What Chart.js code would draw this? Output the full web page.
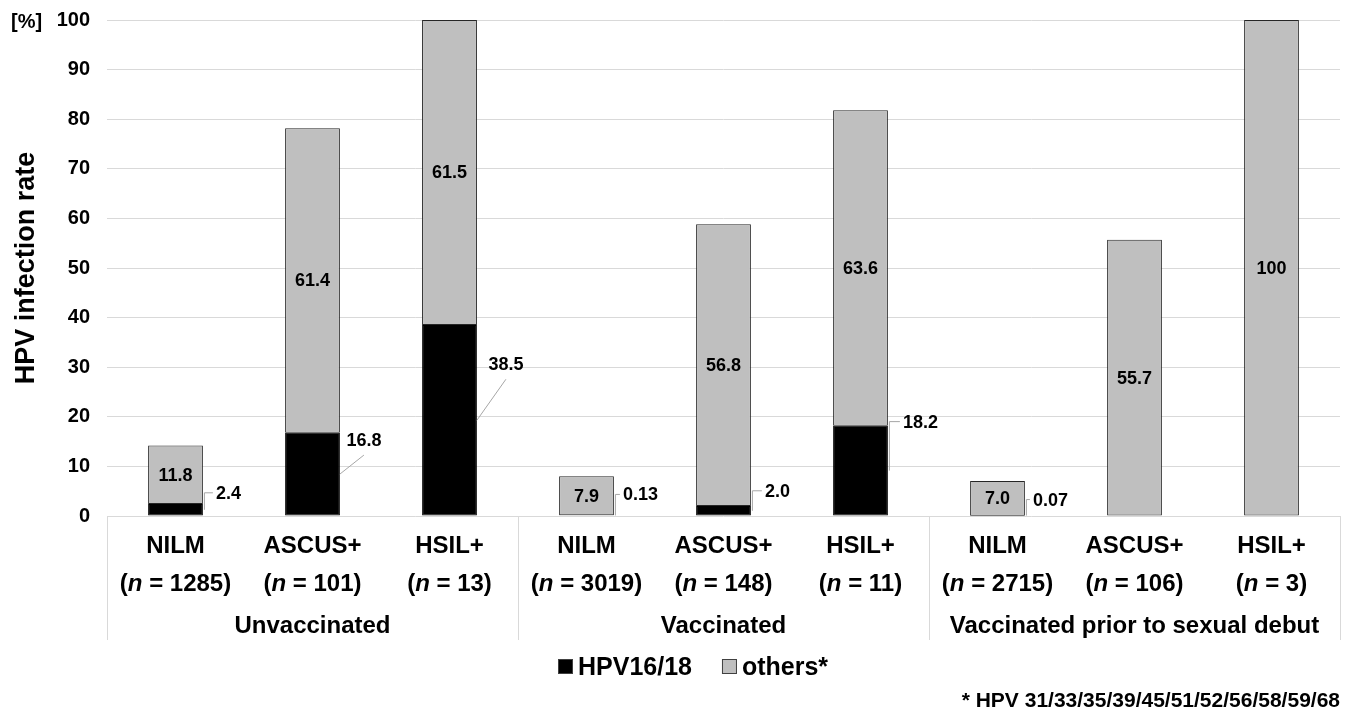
<!DOCTYPE html>
<html>
<head>
<meta charset="utf-8">
<title>HPV infection rate</title>
<script src="https://cdn.jsdelivr.net/npm/chart.js@4.4.1/dist/chart.umd.min.js"></script>
<style>
    html, body { margin: 0; padding: 0; background: #fff; }
</style>
</head>
<body>
<canvas id="hpvChart" width="1352" height="712"></canvas>
<script>
// Chart data
const categories = ['NILM', 'ASCUS+', 'HSIL+', 'NILM', 'ASCUS+', 'HSIL+', 'NILM', 'ASCUS+', 'HSIL+'];
const sampleSizes = [1285, 101, 13, 3019, 148, 11, 2715, 106, 3];
const groups = ['Unvaccinated', 'Vaccinated', 'Vaccinated prior to sexual debut'];
const groupSizes = [3, 3, 3];
const hpv1618 = [2.4, 16.8, 38.5, 0.13, 2.0, 18.2, 0.07, 0, 0];
const others = [11.8, 61.4, 61.5, 7.9, 56.8, 63.6, 7.0, 55.7, 100];
const seriesNames = ['HPV16/18', 'others*'];
const yTicks = [0, 10, 20, 30, 40, 50, 60, 70, 80, 90, 100];
const footnote = '* HPV 31/33/35/39/45/51/52/56/58/59/68';

const FONT = '"Liberation Sans", Arial, sans-serif';
const BLACK = '#000000';
const GREY = '#bfbfbf';
const LINE = '#d9d9d9';

// where the HPV16/18 value labels sit, relative to the right edge of the black segment
const callouts = [
    { type: 'elbow', dx: 13, dy: -17 },
    { type: 'diag', dx: 24, dy: -34 },
    { type: 'diag', dx: 29, dy: -56 },
    { type: 'elbow', dx: 9, dy: -21 },
    { type: 'elbow', dx: 14, dy: -20 },
    { type: 'elbow', dx: 15, dy: -49 },
    { type: 'elbow', dx: 8, dy: -16 },
    null,
    null
];

function fmt(v) {
    if (v === 100) return '100';
    if (v < 1) return String(v);
    return v.toFixed(1);
}

// Labels, lower axis box, legend and footnote
const annotatePlugin = {
    id: 'annotate',
    afterDatasetsDraw(chart) {
        const ctx = chart.ctx;
        const blackBars = chart.getDatasetMeta(0).data;
        const greyBars = chart.getDatasetMeta(1).data;

        ctx.save();
        ctx.fillStyle = '#000';
        ctx.font = 'bold 18px ' + FONT;
        ctx.textBaseline = 'middle';

        // others* values centred in the grey segment
        greyBars.forEach((bar, i) => {
            if (!others[i]) return;
            ctx.textAlign = 'center';
            ctx.fillText(fmt(others[i]), bar.x, (bar.y + bar.base) / 2 + 1);
        });

        // HPV16/18 values with leader lines
        blackBars.forEach((bar, i) => {
            const c = callouts[i];
            if (!hpv1618[i] || !c) return;
            const ax = bar.x + bar.width / 2;
            const ay = (bar.y + bar.base) / 2;
            ctx.strokeStyle = '#a6a6a6';
            ctx.lineWidth = 1;
            ctx.beginPath();
            if (c.type === 'elbow') {
                ctx.moveTo(ax + 1.5, ay);
                ctx.lineTo(ax + 1.5, ay + c.dy);
                ctx.lineTo(ax + c.dx - 3, ay + c.dy);
                ctx.stroke();
                ctx.textAlign = 'left';
                ctx.fillText(fmt(hpv1618[i]), ax + c.dx, ay + c.dy + 1);
            } else {
                ctx.moveTo(ax, ay);
                ctx.lineTo(ax + c.dx, ay + c.dy + 15);
                ctx.stroke();
                ctx.textAlign = 'center';
                ctx.fillText(fmt(hpv1618[i]), ax + c.dx, ay + c.dy + 1);
            }
        });
        ctx.restore();
    },
    afterDraw(chart) {
        const ctx = chart.ctx;
        const area = chart.chartArea;
        const xs = chart.scales.x;
        const step = xs.getPixelForValue(1) - xs.getPixelForValue(0);

        ctx.save();
        // separators of the category box
        ctx.strokeStyle = LINE;
        ctx.lineWidth = 1;
        let idx = 0;
        const edges = [area.left];
        groupSizes.forEach(n => {
            idx += n;
            edges.push(xs.getPixelForValue(idx - 1) + step / 2);
        });
        edges.forEach(x => {
            const px = Math.round(x) + 0.5;
            ctx.beginPath();
            ctx.moveTo(px, area.bottom);
            ctx.lineTo(px, 640);
            ctx.stroke();
        });

        // category labels
        ctx.fillStyle = '#000';
        ctx.textBaseline = 'middle';
        categories.forEach((cat, i) => {
            const x = xs.getPixelForValue(i);
            ctx.font = 'bold 24px ' + FONT;
            ctx.textAlign = 'center';
            ctx.fillText(cat, x, 546);

            const parts = [
                ['(', 'bold 24px ' + FONT],
                ['n', 'italic bold 24px ' + FONT],
                [' = ' + sampleSizes[i] + ')', 'bold 24px ' + FONT]
            ];
            let total = 0;
            parts.forEach(p => { ctx.font = p[1]; total += ctx.measureText(p[0]).width; });
            let cx = x - total / 2;
            ctx.textAlign = 'left';
            parts.forEach(p => {
                ctx.font = p[1];
                ctx.fillText(p[0], cx, 584);
                cx += ctx.measureText(p[0]).width;
            });
        });

        // group labels
        ctx.font = 'bold 24px ' + FONT;
        ctx.textAlign = 'center';
        groups.forEach((g, k) => {
            ctx.fillText(g, (edges[k] + edges[k + 1]) / 2, 626);
        });

        // y axis title and unit
        ctx.save();
        ctx.translate(26, (area.top + area.bottom) / 2);
        ctx.rotate(-Math.PI / 2);
        ctx.font = 'bold 27px ' + FONT;
        ctx.textAlign = 'center';
        ctx.fillText('HPV infection rate', 0, 1);
        ctx.restore();
        ctx.font = 'bold 20px ' + FONT;
        ctx.textAlign = 'left';
        ctx.fillText('[%]', 11, area.top + 2);

        // legend
        const colors = [BLACK, GREY];
        let lx = 558;
        const ly = 667;
        ctx.font = 'bold 25px ' + FONT;
        seriesNames.forEach((name, k) => {
            ctx.fillStyle = colors[k];
            ctx.fillRect(lx, ly - 8, 15, 15);
            ctx.strokeStyle = '#404040';
            ctx.strokeRect(lx + 0.5, ly - 7.5, 14, 14);
            ctx.fillStyle = '#000';
            ctx.textAlign = 'left';
            ctx.fillText(name, lx + 20, ly + 1);
            lx += 20 + ctx.measureText(name).width + 30;
        });

        // footnote
        ctx.font = 'bold 21px ' + FONT;
        ctx.textAlign = 'right';
        ctx.fillText(footnote, area.right, 701);
        ctx.restore();
    }
};

document.addEventListener('DOMContentLoaded', function () {
    const canvas = document.getElementById('hpvChart');

    new Chart(canvas, {
        type: 'bar',
        data: {
            labels: categories,
            datasets: [{
                label: seriesNames[0],
                data: hpv1618,
                backgroundColor: BLACK,
                borderColor: '#000000',
                borderWidth: ctx => (ctx.raw > 0 ? 1 : 0),
                borderSkipped: false
            }, {
                label: seriesNames[1],
                data: others,
                backgroundColor: GREY,
                borderColor: '#262626',
                borderWidth: ctx => (ctx.raw > 0 ? 1 : 0),
                borderSkipped: false
            }]
        },
        options: {
            responsive: false,
            animation: false,
            devicePixelRatio: 1,
            layout: {
                padding: { top: 20, right: 12, bottom: 0, left: 0 }
            },
            datasets: {
                bar: {
                    categoryPercentage: 1,
                    barPercentage: 0.4
                }
            },
            plugins: {
                legend: { display: false },
                tooltip: { enabled: false }
            },
            scales: {
                x: {
                    stacked: true,
                    ticks: { display: false },
                    grid: { display: false },
                    border: { display: false },
                    afterFit: scale => { scale.height = 196; }
                },
                y: {
                    stacked: true,
                    min: 0,
                    max: 100,
                    afterBuildTicks: scale => {
                        scale.ticks = yTicks.map(v => ({ value: v }));
                    },
                    ticks: {
                        color: '#000',
                        padding: 17,
                        font: { family: FONT, size: 20, weight: 'bold' }
                    },
                    grid: {
                        color: LINE,
                        lineWidth: 1,
                        drawTicks: false
                    },
                    border: { display: false },
                    afterFit: scale => {
                        scale.width = 107;
                        scale.paddingTop = 0;
                        scale.paddingBottom = 0;
                    }
                }
            }
        },
        plugins: [annotatePlugin]
    });
});
</script>
</body>
</html>
